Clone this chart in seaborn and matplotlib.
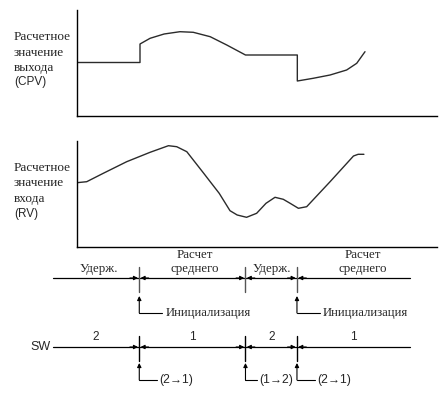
import pandas as pd
import seaborn as sns
import matplotlib.pyplot as plt

sns.set_style("white")
plt.rcParams['font.family'] = ['Liberation Serif', 'DejaVu Serif']

# ================================
# Data (time in % of window, value in arbitrary units)
# ================================
cpv_t = [0, 17.5, 17.5, 20.3, 24.2, 28.6, 32.3, 37.0, 41.6, 46.8,
         61.2, 61.2, 65.6, 70.3, 74.9, 77.7, 80.0]
cpv_v = [53.5, 53.5, 72, 77.7, 82, 84.3, 83.7, 79.3, 71, 61,
         61, 35, 37.7, 41, 46, 52.7, 64.3]

rv_t = [0, 2.7, 7.3, 13.8, 20.3, 25.4, 27.7, 30.5, 35.2, 37.0, 39.5, 42.5,
        44.5, 47.1, 49.9, 52.5, 55.0, 57.3, 59.2, 61.5, 63.8, 70.3, 76.8,
        78.1, 79.7]
rv_v = [64.3, 65.3, 73.7, 85.3, 94.7, 101.3, 100.3, 95.3, 73.7, 65.3, 53.7, 36.3,
        32, 29.7, 33.7, 43.7, 49.7, 47.7, 43.7, 38.7, 40.3, 65.3, 91,
        92.7, 92.7]

switch_t = [17.3, 46.8, 61.1]
line_start, line_end = -6.7, 92.5
mode_labels = ['Удерж.', 'Расчет\nсреднего', 'Удерж.', 'Расчет\nсреднего']
sw_labels = ['2', '1', '2', '1']
init_idx = [0, 2]
init_label = 'Инициализация'
trans_labels = ['(2→1)', '(1→2)', '(2→1)']

W, H = 445, 393
SANS = ['Liberation Sans', 'DejaVu Sans']
LINE = '#2b2b2b'

fig = plt.figure(figsize=(W / 100, H / 100), dpi=100)

# overlay axes in (time, pixel-row) coordinates for the timelines
ov = fig.add_axes([0, 0, 1, 1])
ov.set_xlim(-77 / 3.6, (W - 77) / 3.6)
ov.set_ylim(H, 0)
ov.axis('off')


def plot_panel(top_px, t, v, title_lines, tag):
    ax = fig.add_axes([77 / W, 1 - (top_px + 106) / H, 360 / W, 106 / H])
    df = pd.DataFrame({'t': t, 'v': v})
    sns.lineplot(data=df, x='t', y='v', ax=ax, sort=False, estimator=None,
                 color=LINE, lw=1.0, solid_joinstyle='round')
    ax.set_xlim(0, 100)
    ax.set_ylim(0, 106)
    ax.set_xticks([])
    ax.set_yticks([])
    ax.set_xlabel('')
    ax.set_ylabel('')
    sns.despine(ax=ax)
    for s in ['left', 'bottom']:
        ax.spines[s].set_color('black')
        ax.spines[s].set_linewidth(1.0)
    ax.patch.set_alpha(0)
    y0 = top_px + 27
    for i, line in enumerate(title_lines):
        fig.text(14 / W, 1 - (y0 + i * 15.5) / H, line, fontsize=9.5,
                 va='center', ha='left')
    fig.text(14 / W, 1 - (y0 + len(title_lines) * 15.5 - 1) / H, tag,
             fontsize=8.5, va='center', ha='left', family=SANS)


plot_panel(10, cpv_t, cpv_v, ['Расчетное', 'значение', 'выхода'], '(CPV)')
plot_panel(141, rv_t, rv_v, ['Расчетное', 'значение', 'входа'], '(RV)')


def timeline(y, labels, label_y, shifts, fontkw, tick_color):
    ov.plot([line_start, line_end], [y, y], color='black', lw=0.9)
    for t in switch_t:
        ov.plot([t, t], [y - 11, y + 14], color=tick_color, lw=1.0)
        for side in (-1, 1):
            ov.annotate('', xy=(t + side * 0.35, y), xytext=(t + side * 2.6, y),
                        arrowprops=dict(arrowstyle='-|>', color='black', lw=0.8,
                                        shrinkA=0, shrinkB=0, mutation_scale=6))
    edges = [line_start] + switch_t + [line_end]
    for i, lab in enumerate(labels):
        mid = (edges[i] + edges[i + 1]) / 2 + shifts[i]
        ov.text(mid, label_y, lab, ha='center', va='bottom',
                linespacing=1.2, **fontkw)


def marker_arrow(t, y, text, hlen, gap, fontkw):
    ov.annotate('', xy=(t, y - 17), xytext=(t, y),
                arrowprops=dict(arrowstyle='-|>', color='black', lw=0.8,
                                shrinkA=0, shrinkB=0, mutation_scale=6))
    ov.plot([t, t + hlen], [y, y], color='black', lw=0.8)
    ov.text(t + gap, y, text, ha='left', va='center', **fontkw)


timeline(278, mode_labels, 275, [0.9, 0.7, 0.3, 2.6], dict(fontsize=9.3), '#555555')
for i in init_idx:
    marker_arrow(switch_t[i], 313, init_label, 6.4, 7.2, dict(fontsize=9.2))

ov.text(51 / 3.6 - 77 / 3.6, 347, 'SW', ha='right', va='center',
        fontsize=9, family=SANS)
timeline(347, sw_labels, 343, [0, 0, 0, 0], dict(fontsize=8.5, family=SANS), 'black')
for t, lab, hl in zip(switch_t, trans_labels, [5.0, 3.1, 5.0]):
    marker_arrow(t, 380, lab, hl, hl + 0.6, dict(fontsize=8.7, family=SANS))

fig.savefig('out.png', dpi=100)
